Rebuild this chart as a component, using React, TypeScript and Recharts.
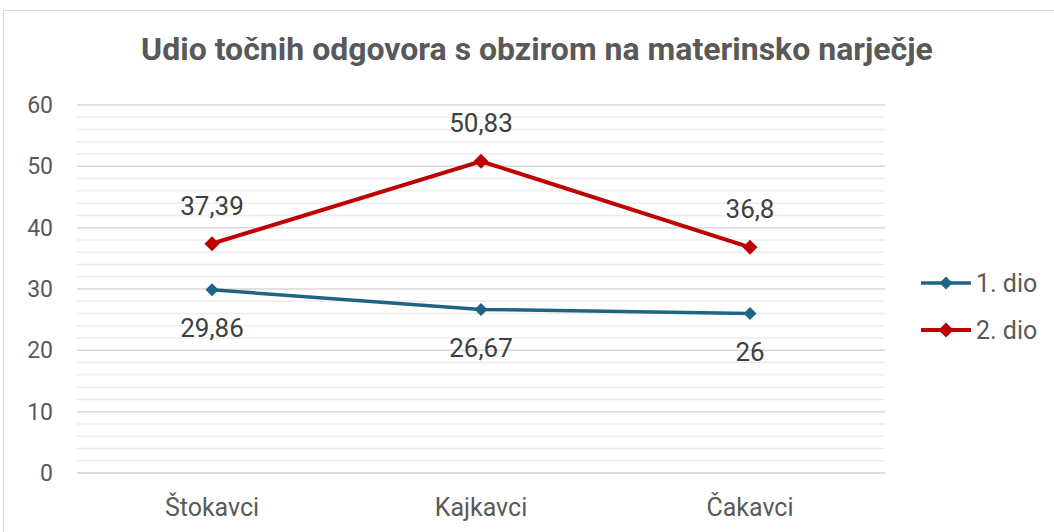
import React from "react";
import {
  LineChart,
  Line,
  XAxis,
  YAxis,
  CartesianGrid,
  ReferenceLine,
  LabelList,
} from "recharts";

const categories = ["Štokavci", "Kajkavci", "Čakavci"];
const dio1 = [29.86, 26.67, 26];
const dio2 = [37.39, 50.83, 36.8];
const yTicks = [0, 10, 20, 30, 40, 50, 60];
const minorTicks = [2, 4, 6, 8, 12, 14, 16, 18, 22, 24, 26, 28, 32, 34, 36, 38, 42, 44, 46, 48, 52, 54, 56, 58];

const BLUE = "#1f6483";
const RED = "#c00000";
const FONT = "Roboto, 'Liberation Sans', sans-serif";

const data = categories.map((name, i) => ({ name, d1: dio1[i], d2: dio2[i] }));

const fmt = (v: any) => String(v).replace(".", ",");

const Diamond = (size: number, color: string) => (props: any) => {
  const { cx, cy } = props;
  if (cx == null || cy == null) return null;
  return (
    <polygon
      points={`${cx},${cy - size} ${cx + size},${cy} ${cx},${cy + size} ${cx - size},${cy}`}
      fill={color}
    />
  );
};

const legendItems = [
  { label: "1. dio", color: BLUE, size: 6.5, width: 3.5 },
  { label: "2. dio", color: RED, size: 7.5, width: 4 },
];

export default function App() {
  return (
    <div style={{ position: "absolute", left: 0, top: 0, width: 1054, height: 532, overflow: "hidden", background: "#fff", fontFamily: FONT }}>
      <div style={{ position: "absolute", left: 3, top: 10, width: 1060, height: 540, border: "1px solid #d9d9d9" }} />
      <div style={{ position: "absolute", left: 0, top: 30, width: 1074, textAlign: "center", fontSize: 32, fontWeight: 700, color: "#595959" }}>
        Udio točnih odgovora s obzirom na materinsko narječje
      </div>
      <div style={{ position: "absolute", left: 0, top: 0 }}>
        <LineChart width={1054} height={532} data={data} margin={{ top: 105, right: 169, left: 0, bottom: 0 }}>
          {minorTicks.map((v) => (
            <ReferenceLine key={v} y={v} stroke="#ececec" strokeWidth={1.5} />
          ))}
          <CartesianGrid vertical={false} stroke="#d9d9d9" strokeWidth={1.5} />
          <XAxis
            dataKey="name"
            height={59}
            padding={{ left: 135, right: 135 }}
            tickLine={false}
            axisLine={{ stroke: "#d9d9d9", strokeWidth: 1.5 }}
            tickSize={0}
            tickMargin={25}
            tick={{ fontSize: 25, fill: "#595959", fontFamily: FONT }}
          />
          <YAxis
            width={77}
            domain={[0, 60]}
            ticks={yTicks}
            tickLine={false}
            axisLine={false}
            tickSize={0}
            tickMargin={24}
            tick={{ fontSize: 23, fill: "#595959", fontFamily: FONT }}
          />
          <Line
            dataKey="d1"
            stroke={BLUE}
            strokeWidth={3.5}
            dot={Diamond(6.5, BLUE)}
            activeDot={false}
            isAnimationActive={false}
          >
            <LabelList dataKey="d1" position="bottom" offset={29} formatter={fmt} style={{ fontSize: 26, fill: "#404040", fontFamily: FONT }} />
          </Line>
          <Line
            dataKey="d2"
            stroke={RED}
            strokeWidth={4}
            dot={Diamond(7.5, RED)}
            activeDot={false}
            isAnimationActive={false}
          >
            <LabelList dataKey="d2" position="top" offset={29} formatter={fmt} style={{ fontSize: 26, fill: "#404040", fontFamily: FONT }} />
          </Line>
        </LineChart>
      </div>
      {legendItems.map((it, i) => (
        <div key={it.label} style={{ position: "absolute", left: 921, top: 268 + i * 47, height: 30, display: "flex", alignItems: "center" }}>
          <svg width={53} height={30}>
            <line x1={0} y1={15} x2={50} y2={15} stroke={it.color} strokeWidth={it.width} />
            <polygon points={`25,${15 - it.size} ${25 + it.size},15 25,${15 + it.size} ${25 - it.size},15`} fill={it.color} />
          </svg>
          <span style={{ fontSize: 25, color: "#595959", marginLeft: 2 }}>{it.label}</span>
        </div>
      ))}
    </div>
  );
}
